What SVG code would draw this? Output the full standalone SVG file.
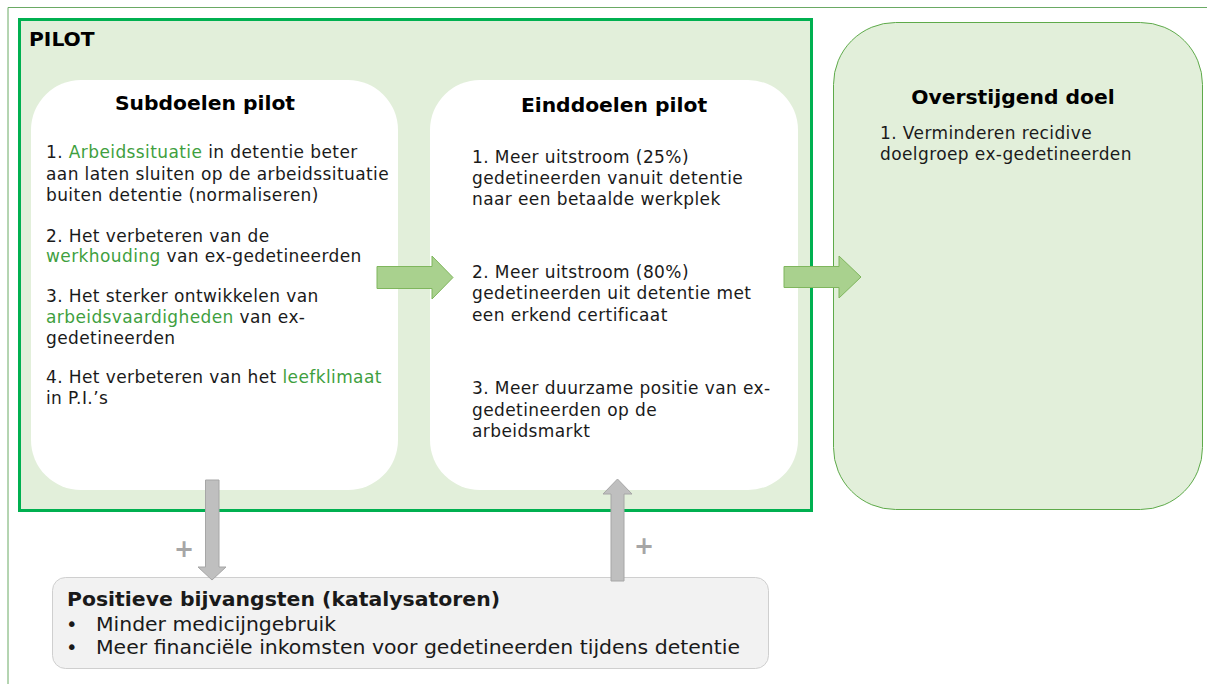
<svg xmlns="http://www.w3.org/2000/svg" width="1207" height="684" viewBox="0 0 1207 684">
<style>
.t{font-family:"DejaVu Sans","Verdana",sans-serif;font-size:17px;fill:#1a1a1a;letter-spacing:0.4px}
.h{font-family:"DejaVu Sans","Verdana",sans-serif;font-size:20.3px;font-weight:bold;fill:#000}
.g{fill:#3f9f3f}
.ga{fill:#a9d18e;stroke:#7fb65d;stroke-width:1}
.gr{fill:#bfbfbf;stroke:#a6a6a6;stroke-width:1}
.plus{font-family:"DejaVu Sans",sans-serif;font-size:24px;font-weight:bold;fill:#a6a6a6}
.b{font-family:"DejaVu Sans","Verdana",sans-serif;font-size:19.5px;fill:#1a1a1a}
</style>
<rect width="1207" height="684" fill="#fff"/>
<g id="frame">
<path d="M8 684 V7.5 H1207" fill="none" stroke="#6aaa64" stroke-width="1"/>
</g>
<g id="pilot">
<rect x="19.5" y="19.5" width="792" height="491" fill="#e2efda" stroke="#00b050" stroke-width="3"/>
<text class="h" x="29" y="46" font-size="21px">PILOT</text>
</g>
<g id="subdoelen">
<rect x="31" y="80" width="367" height="410" rx="50" fill="#fff"/>
<text class="h" x="205" y="110" text-anchor="middle">Subdoelen pilot</text>
<text class="t" x="46" y="158">1. <tspan class="g">Arbeidssituatie</tspan> in detentie beter</text>
<text class="t" x="46" y="180">aan laten sluiten op de arbeidssituatie</text>
<text class="t" x="46" y="201">buiten detentie (normaliseren)</text>
<text class="t" x="46" y="242">2. Het verbeteren van de</text>
<text class="t" x="46" y="262"><tspan class="g">werkhouding</tspan> van ex-gedetineerden</text>
<text class="t" x="46" y="302">3. Het sterker ontwikkelen van</text>
<text class="t" x="46" y="323"><tspan class="g">arbeidsvaardigheden</tspan> van ex-</text>
<text class="t" x="46" y="344">gedetineerden</text>
<text class="t" x="46" y="383">4. Het verbeteren van het <tspan class="g">leefklimaat</tspan></text>
<text class="t" x="46" y="404">in P.I.’s</text>
</g>
<g id="einddoelen">
<rect x="430" y="80" width="368" height="410" rx="50" fill="#fff"/>
<text class="h" x="614" y="112" text-anchor="middle">Einddoelen pilot</text>
<text class="t" x="472" y="163">1. Meer uitstroom (25%)</text>
<text class="t" x="472" y="184">gedetineerden vanuit detentie</text>
<text class="t" x="472" y="205">naar een betaalde werkplek</text>
<text class="t" x="472" y="278">2. Meer uitstroom (80%)</text>
<text class="t" x="472" y="299">gedetineerden uit detentie met</text>
<text class="t" x="472" y="321">een erkend certificaat</text>
<text class="t" x="472" y="394">3. Meer duurzame positie van ex-</text>
<text class="t" x="472" y="416">gedetineerden op de</text>
<text class="t" x="472" y="437">arbeidsmarkt</text>
</g>
<g id="overstijgend">
<rect x="833.5" y="22.5" width="369" height="487" rx="62" fill="#e2efda" stroke="#5eaa4a" stroke-width="1"/>
<text class="h" x="1013" y="104" text-anchor="middle">Overstijgend doel</text>
<text class="t" x="880" y="139">1. Verminderen recidive</text>
<text class="t" x="880" y="160">doelgroep ex-gedetineerden</text>
</g>
<g id="bijvangsten">
<rect x="52.5" y="577.5" width="716" height="91" rx="13" fill="#f2f2f2" stroke="#cfcfcf" stroke-width="1"/>
<text class="b" x="67" y="606" font-weight="bold" fill="#000" textLength="433" lengthAdjust="spacingAndGlyphs">Positieve bijvangsten (katalysatoren)</text>
<text class="b" x="66" y="631">•</text>
<text class="b" x="96" y="631" textLength="240" lengthAdjust="spacingAndGlyphs">Minder medicijngebruik</text>
<text class="b" x="66" y="654">•</text>
<text class="b" x="96" y="654" textLength="644" lengthAdjust="spacingAndGlyphs">Meer financiële inkomsten voor gedetineerden tijdens detentie</text>
</g>
<g id="connectors">
<path class="ga" d="M377 266.5 H432 V256 L453 277.5 L432 299 V288.5 H377 Z"/>
<path class="ga" d="M784 266.5 H839 V256 L861 277 L839 298 V287.5 H784 Z"/>
<path class="gr" d="M205.5 480 H219 V567 H226 L212 580 L198 567 H205.5 Z"/>
<path class="gr" d="M611 581 V494 H603 L617.5 479 L632 494 H624 V581 Z"/>
<text class="plus" x="184" y="557" text-anchor="middle">+</text>
<text class="plus" x="644" y="554" text-anchor="middle">+</text>
</g>
</svg>
